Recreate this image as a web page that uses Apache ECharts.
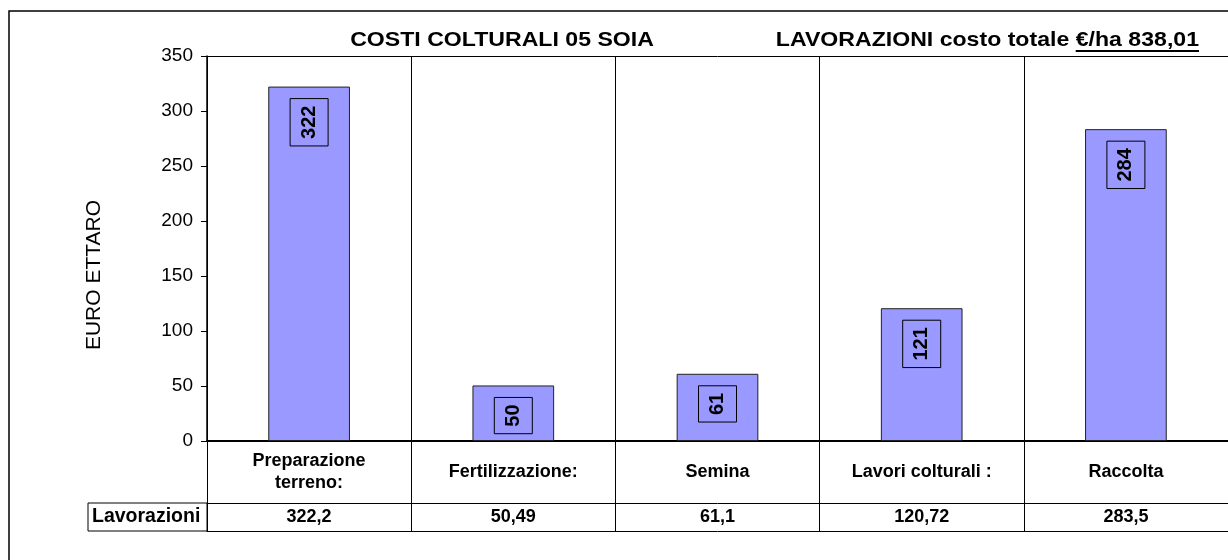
<!DOCTYPE html>
<html>
<head>
<meta charset="utf-8">
<script src="https://cdn.jsdelivr.net/npm/echarts@6/dist/echarts.min.js"></script>
<style>
  html, body { margin: 0; padding: 0; background: #fff; }
  #chart { width: 1228px; height: 560px; }
</style>
</head>
<body>
<div id="chart"></div>
<script>
var categories = ['Preparazione\nterreno:', 'Fertilizzazione:', 'Semina', 'Lavori colturali :', 'Raccolta'];
var costs = [322.2, 50.49, 61.1, 120.72, 283.5];
var rowName = 'Lavorazioni';
var axisName = 'EURO ETTARO';
var titleLeft = 'COSTI COLTURALI 05 SOIA';
var titleRightA = 'LAVORAZIONI costo totale';
var titleRightB = '€/ha 838,01';

var FONT = '"Liberation Sans", Arial, sans-serif';
var TITLE_FONT = 'bold 21px ' + FONT;

function fmt(v) {
    return String(v).replace('.', ',');
}

// measure text so the underline sits under the second part of the title
var ctx = document.createElement('canvas').getContext('2d');
ctx.font = TITLE_FONT;
var wB = ctx.measureText(titleRightB).width;
var wSpace = ctx.measureText(' ').width;

var chart = echarts.init(document.getElementById('chart'));

var option = {
    animation: false,
    textStyle: { fontFamily: FONT },
    grid: { left: 207, right: -2, top: 56, bottom: 119 },
    xAxis: [
        {
            type: 'category',
            data: categories,
            position: 'bottom',
            axisLine: { lineStyle: { color: '#000', width: 2 } },
            axisTick: { show: true, length: 90, lineStyle: { color: '#000', width: 1 } },
            axisLabel: {
                color: '#000', fontWeight: 'bold', fontSize: 18, lineHeight: 22,
                margin: 31, verticalAlign: 'middle', interval: 0
            },
            splitLine: { show: true, lineStyle: { color: '#000', width: 1 } }
        },
        {
            type: 'category',
            data: categories,
            position: 'bottom',
            offset: 62,
            axisLine: { lineStyle: { color: '#000', width: 1 } },
            axisTick: { show: false },
            axisLabel: {
                color: '#000', fontWeight: 'bold', fontSize: 18,
                margin: 14, verticalAlign: 'middle', interval: 0,
                formatter: function (v, i) { return fmt(costs[i]); }
            }
        },
        {
            type: 'category',
            data: categories,
            position: 'bottom',
            offset: 90,
            axisLine: { lineStyle: { color: '#000', width: 1 } },
            axisTick: { show: false },
            axisLabel: { show: false }
        },
        {
            type: 'category',
            data: categories,
            position: 'top',
            axisLine: { lineStyle: { color: '#000', width: 1 } },
            axisTick: { show: false },
            axisLabel: { show: false }
        }
    ],
    yAxis: {
        type: 'value',
        min: 0,
        max: 350,
        interval: 50,
        axisLine: { show: true, lineStyle: { color: '#000', width: 1.5 } },
        axisTick: { show: true, length: 6, lineStyle: { color: '#000' } },
        axisLabel: { color: '#000', fontSize: 19, margin: 14 },
        splitLine: { show: false }
    },
    series: [{
        type: 'bar',
        data: costs,
        barWidth: '40%',
        itemStyle: { color: '#9999ff', borderColor: '#222', borderWidth: 1 },
        label: {
            show: true,
            position: 'insideTop',
            distance: 12,
            rotate: 90,
            align: 'right',
            verticalAlign: 'middle',
            formatter: function (p) { return Math.round(p.value); },
            color: '#000',
            fontWeight: 'bold',
            fontSize: 20,
            lineHeight: 20,
            padding: [9, 7],
            borderColor: '#000',
            borderWidth: 1
        }
    }],
    graphic: [
        {
            type: 'rect',
            shape: { x: 9, y: 11, width: 1300, height: 700 },
            style: { fill: 'none', stroke: '#000', lineWidth: 1.5 }
        },
        {
            type: 'text',
            x: 502, y: 40,
            scaleX: 1.1,
            style: {
                text: titleLeft, font: TITLE_FONT, fill: '#000',
                textAlign: 'center', textVerticalAlign: 'middle'
            }
        },
        {
            type: 'group',
            x: 1199, y: 40,
            scaleX: 1.1,
            children: [
                {
                    type: 'text',
                    x: -wB - wSpace, y: 0,
                    style: {
                        text: titleRightA, font: TITLE_FONT, fill: '#000',
                        textAlign: 'right', textVerticalAlign: 'middle'
                    }
                },
                {
                    type: 'text',
                    x: 0, y: 0,
                    style: {
                        text: titleRightB, font: TITLE_FONT, fill: '#000',
                        textAlign: 'right', textVerticalAlign: 'middle'
                    }
                },
                {
                    type: 'rect',
                    shape: { x: -wB, y: 10, width: wB, height: 2 },
                    style: { fill: '#000' }
                }
            ]
        },
        {
            type: 'text',
            x: 94, y: 275,
            rotation: Math.PI / 2,
            style: {
                text: axisName, font: '21px ' + FONT, fill: '#000',
                textAlign: 'center', textVerticalAlign: 'middle'
            }
        },
        {
            type: 'rect',
            shape: { x: 88, y: 503, width: 119, height: 28 },
            style: { fill: 'none', stroke: '#000', lineWidth: 1 }
        },
        {
            type: 'text',
            x: 92, y: 517,
            style: {
                text: rowName, font: 'bold 19.5px ' + FONT, fill: '#000',
                textAlign: 'left', textVerticalAlign: 'middle'
            }
        }
    ]
};

chart.setOption(option);
</script>
</body>
</html>
